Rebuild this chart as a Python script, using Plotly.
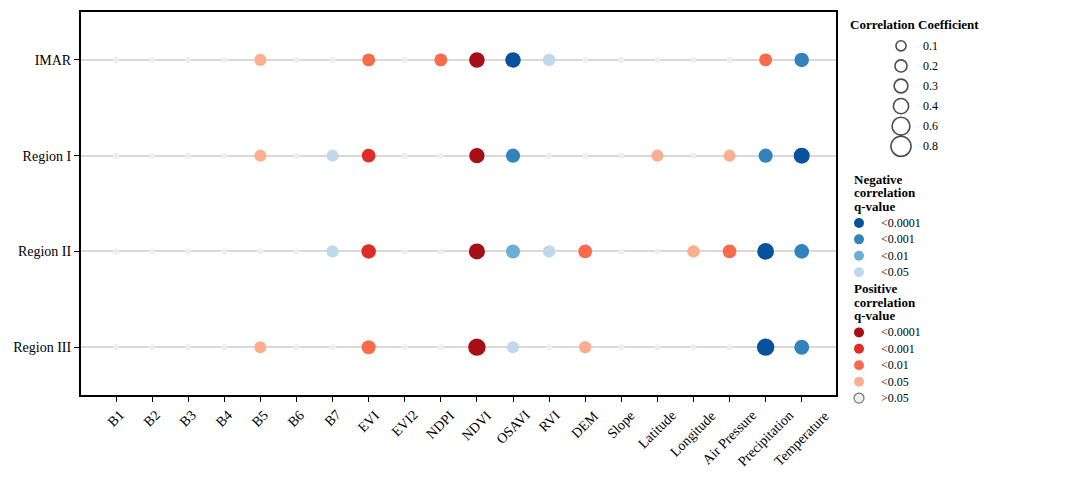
import plotly.graph_objects as go
import numpy as np

# ---------------- data ----------------
variables = ["B1", "B2", "B3", "B4", "B5", "B6", "B7", "EVI", "EVI2", "NDPI", "NDVI",
             "OSAVI", "RVI", "DEM", "Slope", "Latitude", "Longitude", "Air Pressure",
             "Precipitation", "Temperature"]
regions = ["IMAR", "Region I", "Region II", "Region III"]

# correlation coefficients (sign: + positive / - negative)
r_imar = [0.03, 0.03, 0.03, 0.03, 0.20, 0.03, 0.03, 0.25, 0.03, 0.25, 0.42,
          -0.42, -0.22, 0.03, 0.03, 0.03, 0.03, 0.03, 0.25, -0.35]
r_region1 = [0.03, 0.03, 0.03, 0.03, 0.20, 0.03, -0.20, 0.30, 0.03, 0.03, 0.40,
             -0.33, 0.03, 0.03, 0.03, 0.20, 0.03, 0.20, -0.33, -0.46]
r_region2 = [0.03, 0.03, 0.03, 0.03, 0.03, 0.03, -0.22, 0.35, 0.03, 0.03, 0.46,
             -0.32, -0.22, 0.30, 0.03, 0.03, 0.22, 0.30, -0.51, -0.36]
r_region3 = [0.03, 0.03, 0.03, 0.03, 0.20, 0.03, 0.03, 0.32, 0.03, 0.03, 0.56,
             -0.20, 0.03, 0.22, 0.03, 0.03, 0.03, 0.03, -0.56, -0.38]

NS = ">0.05"
q_imar = [NS, NS, NS, NS, "<0.05", NS, NS, "<0.01", NS, "<0.01", "<0.0001",
          "<0.0001", "<0.05", NS, NS, NS, NS, NS, "<0.01", "<0.001"]
q_region1 = [NS, NS, NS, NS, "<0.05", NS, "<0.05", "<0.001", NS, NS, "<0.0001",
             "<0.001", NS, NS, NS, "<0.05", NS, "<0.05", "<0.001", "<0.0001"]
q_region2 = [NS, NS, NS, NS, NS, NS, "<0.05", "<0.001", NS, NS, "<0.0001",
             "<0.01", "<0.05", "<0.01", NS, NS, "<0.05", "<0.01", "<0.0001", "<0.001"]
q_region3 = [NS, NS, NS, NS, "<0.05", NS, NS, "<0.01", NS, NS, "<0.0001",
             "<0.05", NS, "<0.05", NS, NS, NS, NS, "<0.0001", "<0.001"]

r_rows = [r_imar, r_region1, r_region2, r_region3]
q_rows = [q_imar, q_region1, q_region2, q_region3]

size_legend_values = [0.1, 0.2, 0.3, 0.4, 0.6, 0.8]
q_levels = ["<0.0001", "<0.001", "<0.01", "<0.05"]

# ---------------- styles ----------------
neg_colors = {"<0.0001": "#08519c", "<0.001": "#3182bd", "<0.01": "#6baed6", "<0.05": "#bfd8ea"}
pos_colors = {"<0.0001": "#a50f15", "<0.001": "#de2d26", "<0.01": "#fb6a4a", "<0.05": "#fcae91"}
ns_color = "#eeeeee"
FONT = "Liberation Serif"

# page body has an 8px margin: figure px = screen px - 8
OFF = 8
FIG_W, FIG_H = 1080, 479
PLOT_L, PLOT_R, PLOT_T, PLOT_B = 81, 836, 10, 395      # screen px of main frame
LEG_R, PAPER_B = 1070, 412                            # screen px
margin_l = PLOT_L - OFF
margin_t = PLOT_T - OFF
margin_r = FIG_W - (LEG_R - OFF)
margin_b = FIG_H - (PAPER_B - OFF)
W_PAPER = LEG_R - PLOT_L
H_PAPER = PAPER_B - PLOT_T


def dom(px):
    return (px - PLOT_L) / W_PAPER


def ypaper(px):
    return (PAPER_B - px) / H_PAPER


def size_of(r):
    return float(np.sqrt(60 + 430 * abs(r)))


xs, ys, sizes, colors, texts = [], [], [], [], []
for reg, rr, qq in zip(regions, r_rows, q_rows):
    for var, r, q in zip(variables, rr, qq):
        xs.append(var)
        ys.append(reg)
        if q == NS:
            sizes.append(6)
            colors.append(ns_color)
        else:
            sizes.append(size_of(r))
            colors.append(pos_colors[q] if r > 0 else neg_colors[q])
        texts.append(f"{reg} / {var}: r={r}, q{q}")

fig = go.Figure()
fig.add_trace(go.Scatter(
    x=xs, y=ys, mode="markers",
    marker=dict(size=sizes, color=colors, line=dict(width=0), opacity=1),
    text=texts, hoverinfo="text", showlegend=False, xaxis="x", yaxis="y"))

ann = []
# rotated x tick labels, centred under each tick (matplotlib style)
for v in variables:
    ann.append(dict(x=v, y=ypaper(405), xref="x", yref="paper", text=v, textangle=-45,
                    xanchor="center", yanchor="top", showarrow=False,
                    font=dict(family=FONT, size=14, color="black")))

# ---------------- custom legend (pixel-like axis) ----------------
lx0 = 838
leg_ann = []
size_y = [44 + 20.2 * i for i in range(len(size_legend_values))]
fig.add_trace(go.Scatter(
    x=[901] * len(size_legend_values), y=size_y, mode="markers",
    marker=dict(symbol="circle-open", size=[size_of(v) for v in size_legend_values],
                color="black", line=dict(width=1.6, color="black")),
    hoverinfo="skip", showlegend=False, cliponaxis=False, xaxis="x2", yaxis="y2"))
leg_ann.append(dict(x=848, y=23, text="<b>Correlation Coefficient</b>", xanchor="left",
                    yanchor="middle", font=dict(family=FONT, size=13, color="black")))
for v, yy in zip(size_legend_values, size_y):
    leg_ann.append(dict(x=921, y=yy, text=f"{v}", xanchor="left", yanchor="middle",
                        font=dict(family=FONT, size=12, color="black")))


def q_block(title_lines, title_y0, dot_y0, cmap, extra_ns=False):
    for k, line in enumerate(title_lines):
        leg_ann.append(dict(x=852, y=title_y0 + 13.5 * k, text=f"<b>{line}</b>", xanchor="left",
                            yanchor="middle", font=dict(family=FONT, size=13, color="black")))
    labels = list(q_levels) + ([NS] if extra_ns else [])
    ys_ = [dot_y0 + 16.5 * i for i in range(len(labels))]
    cols = [cmap[l] if l != NS else ns_color for l in labels]
    lws = [0 if l != NS else 1.2 for l in labels]
    fig.add_trace(go.Scatter(
        x=[859] * len(labels), y=ys_, mode="markers",
        marker=dict(size=10, color=cols, line=dict(width=lws, color="#777777")),
        hoverinfo="skip", showlegend=False, cliponaxis=False, xaxis="x2", yaxis="y2"))
    for l, yy in zip(labels, ys_):
        leg_ann.append(dict(x=879, y=yy, text=l.replace("<", "&lt;").replace(">", "&gt;"),
                            xanchor="left", yanchor="middle",
                            font=dict(family=FONT, size=12, color="black")))


q_block(["Negative", "correlation", "q-value"], 178, 222, neg_colors)
q_block(["Positive", "correlation", "q-value"], 288, 332, pos_colors, extra_ns=True)

for a in leg_ann:
    a.update(xref="x2", yref="y2", showarrow=False)
ann.extend(leg_ann)

fig.update_layout(
    width=FIG_W, height=FIG_H,
    margin=dict(l=margin_l, r=margin_r, t=margin_t, b=margin_b, pad=0),
    paper_bgcolor="white", plot_bgcolor="white",
    font=dict(family=FONT, color="black"),
    annotations=ann,
    xaxis=dict(domain=[0, dom(PLOT_R)], type="category", categoryorder="array",
               categoryarray=variables, range=[-0.97, 19.95],
               showgrid=False, zeroline=False, showline=True, mirror=True,
               linecolor="black", linewidth=2, ticks="outside", ticklen=5,
               tickwidth=1, tickcolor="black", showticklabels=False),
    yaxis=dict(domain=[ypaper(PLOT_B), 1], type="category",
               categoryorder="array", categoryarray=regions,
               range=[3.5, -0.5], showgrid=True, gridcolor="#d9d9d9", gridwidth=1.5,
               zeroline=False, showline=True, mirror=True, linecolor="black", linewidth=2,
               ticks="outside", ticklen=5, tickwidth=1, tickcolor="black",
               tickfont=dict(family=FONT, size=14, color="black")),
    xaxis2=dict(domain=[dom(lx0), 1], range=[lx0, LEG_R], visible=False,
                anchor="y2", fixedrange=True),
    yaxis2=dict(domain=[0, 1], range=[PAPER_B, PLOT_T], visible=False, anchor="x2",
                fixedrange=True),
)

fig.write_html("out.html")
